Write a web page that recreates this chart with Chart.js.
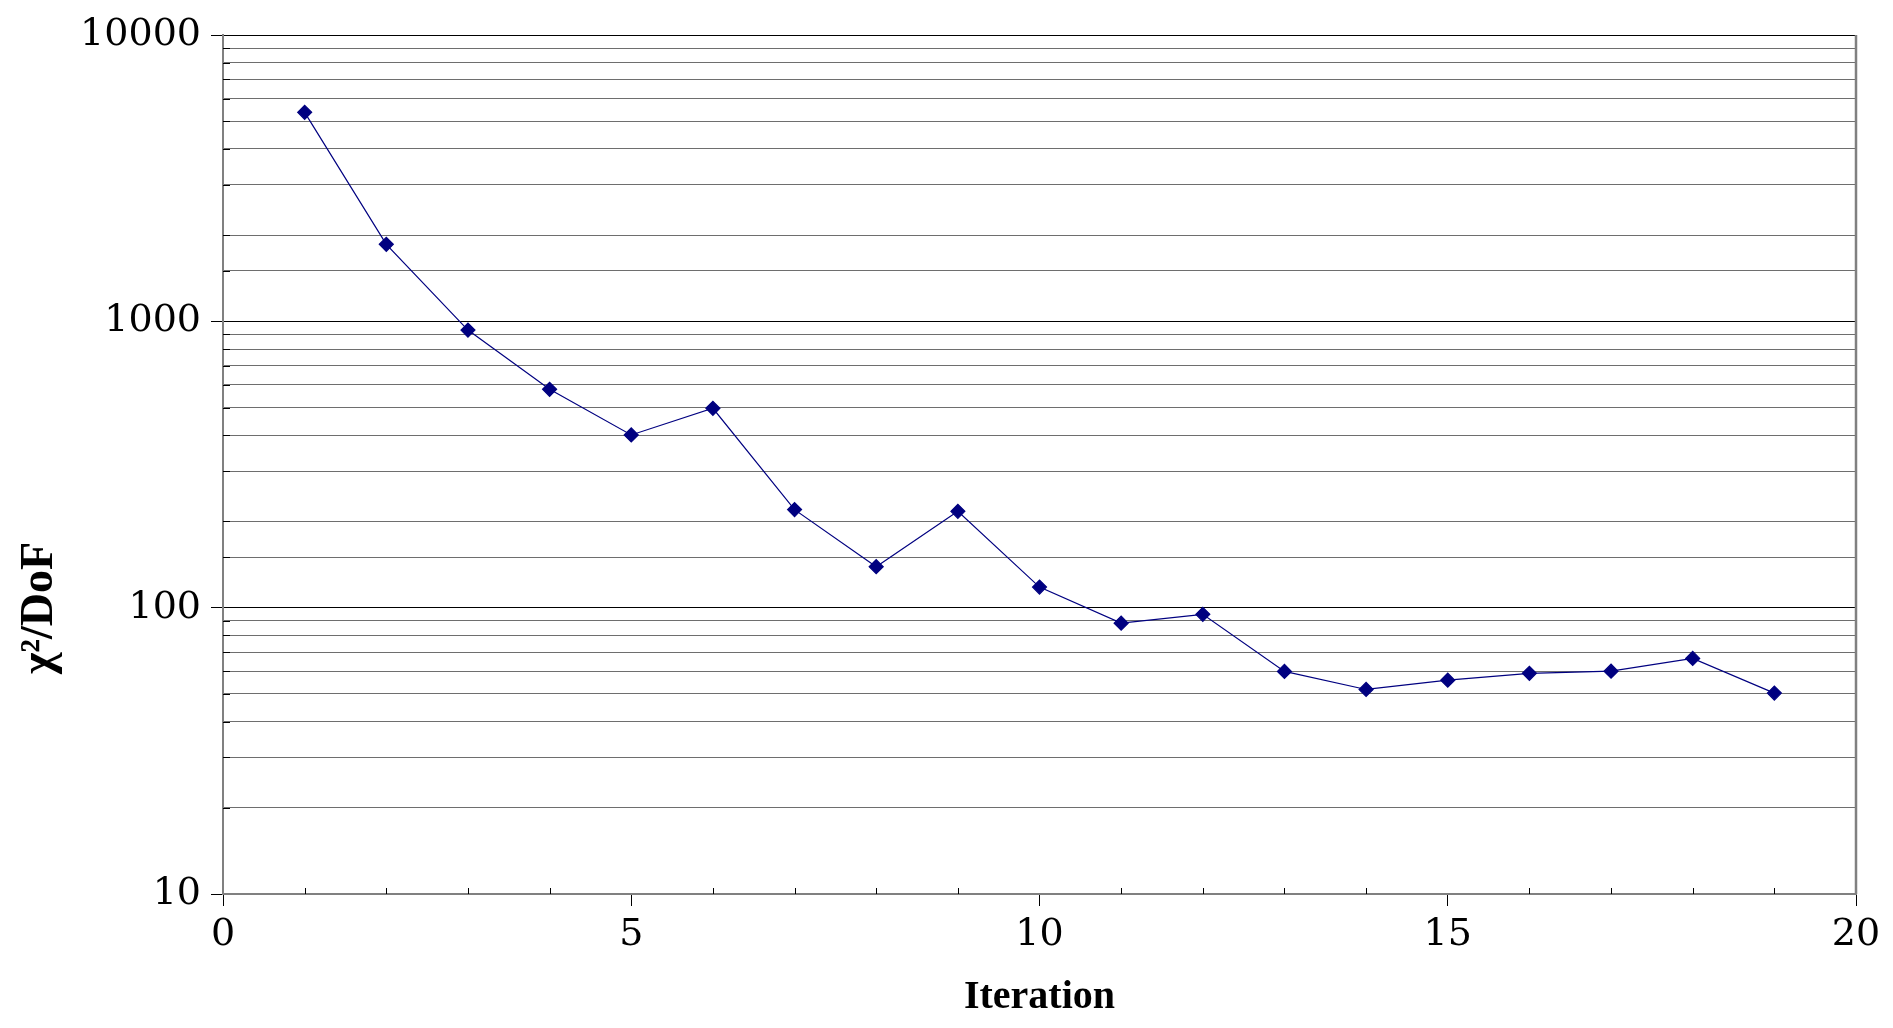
<!DOCTYPE html>
<html>
<head>
<meta charset="utf-8">
<script src="https://cdn.jsdelivr.net/npm/chart.js@4/dist/chart.umd.min.js"></script>
<style>
  body { margin: 0; background: #fff; }
  #wrap { width: 1893px; height: 1028px; position: relative; }
</style>
</head>
<body>
<div id="wrap"><canvas id="chi"></canvas></div>
<script>
const iterations = [1, 2, 3, 4, 5, 6, 7, 8, 9, 10, 11, 12, 13, 14, 15, 16, 17, 18, 19];
const chiPerDof = [5370, 1858, 932, 579, 401, 497, 220, 139, 217, 118, 88.3, 94.8, 59.9, 51.8, 55.8, 59.0, 60.0, 66.5, 50.3];
const xTitle = 'Iteration';
const yTitle = 'χ²/DoF';

const isDecade = v => Math.abs(Math.log10(v) - Math.round(Math.log10(v))) < 1e-9;

// inner minor ticks + rotated y title (sits below the axis centre in the original)
const extras = {
  id: 'extras',
  afterDraw(chart) {
    const { ctx, chartArea: a, scales: { x, y } } = chart;
    ctx.save();
    ctx.strokeStyle = '#000';
    ctx.lineWidth = 1;
    ctx.beginPath();
    y.ticks.forEach(t => {
      if (isDecade(t.value)) return;
      const py = Math.round(y.getPixelForValue(t.value)) + 0.5;
      ctx.moveTo(a.left, py); ctx.lineTo(a.left + 7, py);
    });
    x.ticks.forEach(t => {
      if (t.value % 5 === 0) return;
      const px = Math.round(x.getPixelForValue(t.value)) + 0.5;
      ctx.moveTo(px, a.bottom); ctx.lineTo(px, a.bottom - 6);
    });
    ctx.stroke();
    // right frame edge
    ctx.strokeStyle = '#808080';
    ctx.lineWidth = 2.5;
    ctx.beginPath();
    ctx.moveTo(a.right, a.top); ctx.lineTo(a.right, a.bottom);
    ctx.stroke();

    ctx.translate(40, 608);
    ctx.rotate(-Math.PI / 2);
    ctx.fillStyle = '#000';
    ctx.font = 'bold 46px "Liberation Serif"';
    ctx.textAlign = 'center';
    ctx.textBaseline = 'middle';
    ctx.fillText(yTitle, 0, 0);
    ctx.restore();
  }
};

new Chart(document.getElementById('chi'), {
  type: 'line',
  data: {
    datasets: [{
      data: iterations.map((it, i) => ({ x: it, y: chiPerDof[i] })),
      borderColor: '#000080',
      backgroundColor: '#000080',
      borderWidth: 1.2,
      pointStyle: 'rectRot',
      pointRadius: 7,
      pointHoverRadius: 7,
      tension: 0
    }]
  },
  options: {
    responsive: true,
    maintainAspectRatio: false,
    animation: false,
    layout: { padding: { top: 35, right: 37, left: 0, bottom: 0 } },
    plugins: { legend: { display: false }, tooltip: { enabled: false } },
    scales: {
      x: {
        type: 'linear',
        min: 0,
        max: 20,
        afterFit: s => { s.height = 134; },
        border: { color: '#808080', width: 2 },
        grid: {
          color: 'rgba(0,0,0,0)',
          tickColor: c => (c.tick && c.tick.value % 5 === 0) ? '#000' : 'rgba(0,0,0,0)',
          tickLength: 12,
          tickWidth: 1
        },
        ticks: {
          stepSize: 1,
          autoSkip: false,
          maxRotation: 0,
          padding: 6,
          color: '#000',
          font: { family: '"DejaVu Serif"', size: 38 },
          callback: v => v % 5 === 0 ? String(v) : ''
        },
        title: {
          display: true,
          text: xTitle,
          color: '#000',
          font: { family: '"Liberation Serif"', size: 40, weight: 'bold' },
          padding: { top: 0, bottom: 6 }
        }
      },
      y: {
        type: 'logarithmic',
        min: 10,
        max: 10000,
        afterFit: s => { s.width = 223; },
        border: { color: '#808080', width: 2 },
        grid: {
          color: c => (c.tick && isDecade(c.tick.value)) ? '#000' : '#6e6e6e',
          lineWidth: 1,
          tickColor: c => (c.tick && isDecade(c.tick.value)) ? '#000' : 'rgba(0,0,0,0)',
          tickLength: 12
        },
        ticks: {
          autoSkip: false,
          padding: 10,
          color: '#000',
          font: { family: '"DejaVu Serif"', size: 38 },
          callback: v => isDecade(v) ? String(Math.round(v)) : ''
        }
      }
    }
  },
  plugins: [extras]
});
</script>
</body>
</html>
